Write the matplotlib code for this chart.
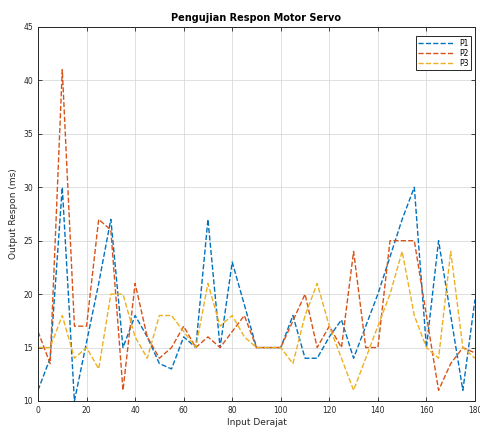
import matplotlib
matplotlib.use('Agg')
import matplotlib.pyplot as plt
import numpy as np

# input angle in degrees, sampled every 5 degrees
sudut = np.arange(0, 181, 5)

p1 = [11, 14, 30, 10, 15.5, 21, 27, 15, 18, 16, 13.5, 13, 16, 15, 27, 15, 23, 19, 15,
      15, 15, 18, 14, 14, 16, 17.6, 14, 17, 20, 23.5, 27, 30, 15, 25, 18, 11, 19.5]
p2 = [16.5, 13.5, 41, 17, 17, 27, 26, 11, 21, 16, 14, 15, 17, 15, 16, 15, 16.5, 18, 15,
      15, 15, 17.5, 20, 15, 17, 15, 24, 15, 15, 25, 25, 25, 18, 11, 13.5, 15, 14.5]
p3 = [15, 15, 18, 14, 15, 13, 20, 20, 16, 14, 18, 18, 16.5, 15, 21, 17, 18, 16, 15,
      15, 15, 13.5, 18, 21, 17, 14, 11, 14, 17, 20, 24, 18, 15, 14, 24, 15, 14]

seri = [('P1', p1, '#0072BD'), ('P2', p2, '#D95319'), ('P3', p3, '#EDB120')]

fig = plt.figure(figsize=(4.81, 4.32), dpi=100, facecolor='white')
ax = fig.add_axes([0.079, 0.0718, 0.9085, 0.8657])

for nama, nilai, warna in seri:
    ax.plot(sudut, nilai, linestyle='--', color=warna, linewidth=1.0, label=nama)

ax.set_xlim(0, 180)
ax.set_ylim(10, 45)
ax.set_xticks(np.arange(0, 181, 20))
ax.set_yticks(np.arange(10, 46, 5))
ax.grid(True, color='#dadada', linewidth=0.6)
ax.set_axisbelow(True)

ax.tick_params(direction='in', length=3, width=0.6, labelsize=5.5, colors='#262626',
               top=True, right=True)
for s in ax.spines.values():
    s.set_linewidth(0.7)
    s.set_color('#262626')

ax.set_title('Pengujian Respon Motor Servo', fontsize=7, fontweight='bold', pad=4)
ax.set_xlabel('Input Derajat', fontsize=6.5, labelpad=2, color='#262626')
ax.set_ylabel('Output Respon (ms)', fontsize=6.5, labelpad=4, color='#262626')

leg = ax.legend(loc='upper right', bbox_to_anchor=(0.99, 0.975), fontsize=5.5,
                handlelength=4.5, borderaxespad=0, fancybox=False, framealpha=1,
                edgecolor='#262626', labelspacing=0.15, borderpad=0.3)
leg.get_frame().set_linewidth(0.7)
for t in leg.get_texts():
    t.set_ha('right')

fig.savefig('out.png', dpi=100, facecolor='white')
